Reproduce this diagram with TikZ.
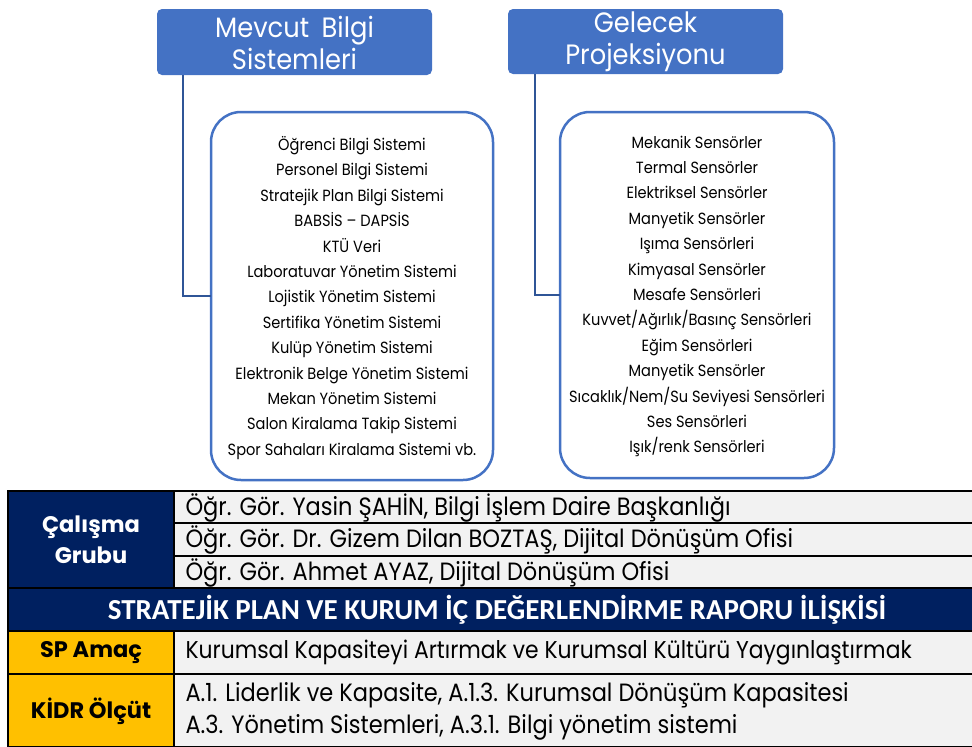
\documentclass[tikz,border=0pt]{standalone}
\usepackage{fontspec}
\setmainfont{Poppins}
\newfontfamily\listfont[FakeStretch=0.9]{Poppins}
\newfontfamily\titlefont[FakeStretch=0.92]{Poppins}
\newfontfamily\condfont[FakeStretch=0.9]{Poppins}
\newfontfamily\headfont{Carlito}
\definecolor{boxblue}{HTML}{4472C4}
\definecolor{connblue}{HTML}{2F5597}
\definecolor{navy}{HTML}{002060}
\definecolor{gold}{HTML}{FFC000}
\definecolor{cellgray}{HTML}{F2F2F2}
\tikzset{
  titlebox/.style={fill=boxblue, rounded corners=5pt},
  titletext/.style={text=white, align=center, font=\titlefont\fontsize{28}{32}\selectfont},
  listbox/.style={draw=boxblue, line width=2.5pt, rounded corners=30pt, fill=white},
  listtext/.style={align=center, font=\listfont\fontsize{16.2}{25.4}\selectfont},
  conn/.style={draw=connblue, line width=2.5pt},
  cell/.style={draw=black, line width=2pt},
  celltext/.style={anchor=west, font=\condfont\fontsize{25}{32}\selectfont},
  boldtext/.style={align=center, font=\bfseries\fontsize{22.5}{31}\selectfont}
}
\begin{document}
\begin{tikzpicture}[x=1pt,y=-1pt]
\useasboundingbox (0,0) rectangle (972,747);
% title boxes
\path[titlebox] (157,9) rectangle (432,75);
\node[titletext] (t1) at (294.5,42.5) {Mevcut\;\,Bilgi\\Sistemleri};
\path[titlebox] (508,9) rectangle (783,74);
\node[titletext] (t2) at (645.5,42) {Gelecek\\Projeksiyonu};
\coordinate (t1b) at (183,75);
\coordinate (t2b) at (535,74);
% list boxes
\path[listbox] (211,112) rectangle (493,480);
\coordinate (l1w) at (211,296);
\path[listbox] (560,112) rectangle (834,478);
\coordinate (l2w) at (560,295);
\draw[conn] (t1b) |- (l1w);
\draw[conn] (t2b) |- (l2w);
\node[listtext] (list1) at (352,298) {Öğrenci Bilgi Sistemi\\Personel Bilgi Sistemi\\Stratejik Plan Bilgi Sistemi\\BABSİS – DAPSİS\\KTÜ Veri\\Laboratuvar Yönetim Sistemi\\Lojistik Yönetim Sistemi\\Sertifika Yönetim Sistemi\\Kulüp Yönetim Sistemi\\Elektronik Belge Yönetim Sistemi\\Mekan Yönetim Sistemi\\Salon Kiralama Takip Sistemi\\Spor Sahaları Kiralama Sistemi vb.};
\node[listtext] (list2) at (697,296.5) {Mekanik Sensörler\\Termal Sensörler\\Elektriksel Sensörler\\Manyetik Sensörler\\Işıma Sensörleri\\Kimyasal Sensörler\\Mesafe Sensörleri\\Kuvvet/Ağırlık/Basınç Sensörleri\\Eğim Sensörleri\\Manyetik Sensörler\\Sıcaklık/Nem/Su Seviyesi Sensörleri\\Ses Sensörleri\\Işık/renk Sensörleri};
% table
\path[cell, fill=navy] (8,491) rectangle (174,588);
\path[cell, fill=cellgray] (174,491) rectangle (980,523);
\path[cell, fill=cellgray] (174,523) rectangle (980,556);
\path[cell, fill=cellgray] (174,556) rectangle (980,588);
\path[cell, fill=navy] (8,588) rectangle (980,631);
\path[cell, fill=gold] (8,631) rectangle (174,674);
\path[cell, fill=cellgray] (174,631) rectangle (980,674);
\path[cell, fill=gold] (8,674) rectangle (174,747);
\path[cell, fill=cellgray] (174,674) rectangle (980,747);
\node[boldtext, text=white] (cg) at (91,540) {Çalışma\\Grubu};
\node[celltext] (r1) at (182,507.5) {Öğr. Gör. Yasin ŞAHİN, Bilgi İşlem Daire Başkanlığı};
\node[celltext] (r2) at (182,540) {Öğr. Gör. Dr. Gizem Dilan BOZTAŞ, Dijital Dönüşüm Ofisi};
\node[celltext] (r3) at (182,572.5) {Öğr. Gör. Ahmet AYAZ, Dijital Dönüşüm Ofisi};
\node[text=white, font=\headfont\bfseries\fontsize{29}{32}\selectfont] (hd) at (497,610) {STRATEJİK PLAN VE KURUM İÇ DEĞERLENDİRME RAPORU İLİŞKİSİ};
\node[boldtext] (sp) at (91,653) {SP Amaç};
\node[celltext, font=\condfont\fontsize{24.3}{32}\selectfont] (spt) at (182,653) {Kurumsal Kapasiteyi Artırmak ve Kurumsal Kültürü Yaygınlaştırmak};
\node[boldtext] (kd) at (91,711) {KİDR Ölçüt};
\node[celltext, align=left] (kdt) at (182,711) {A.1. Liderlik ve Kapasite, A.1.3. Kurumsal Dönüşüm Kapasitesi\\A.3. Yönetim Sistemleri, A.3.1. Bilgi yönetim sistemi};
\end{tikzpicture}
\end{document}
